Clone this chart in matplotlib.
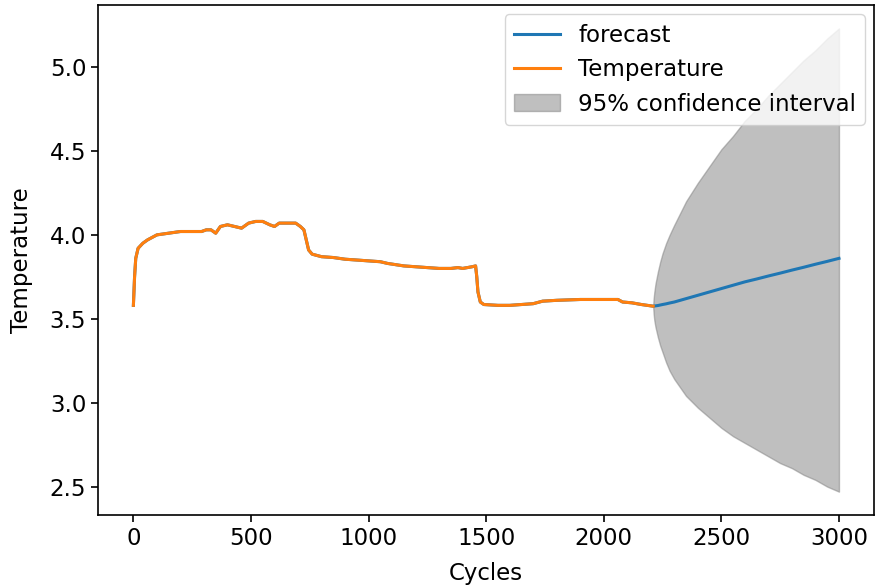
import numpy as np
import matplotlib
matplotlib.use("Agg")
import matplotlib.pyplot as plt

cycles = [0, 5, 10, 20, 40, 60, 100, 150, 200, 250, 290, 310, 330, 350, 370, 400,
          430, 460, 490, 520, 550, 580, 600, 620, 660, 690, 710, 725, 735, 745,
          760, 800, 850, 900, 950, 1000, 1050, 1080, 1150, 1200, 1250, 1300, 1350,
          1380, 1400, 1440, 1455, 1460, 1465, 1475, 1490, 1550, 1600, 1650, 1700,
          1740, 1800, 1900, 2000, 2060, 2080, 2120, 2160, 2210]
temperature = [3.58, 3.75, 3.86, 3.92, 3.95, 3.97, 4.00, 4.01, 4.02, 4.02, 4.02, 4.03,
               4.03, 4.01, 4.05, 4.06, 4.05, 4.04, 4.07, 4.08, 4.08, 4.06, 4.05, 4.07,
               4.07, 4.07, 4.05, 4.03, 3.97, 3.91, 3.885, 3.87, 3.865, 3.855, 3.85,
               3.845, 3.84, 3.83, 3.815, 3.81, 3.805, 3.80, 3.80, 3.805, 3.80, 3.81,
               3.815, 3.75, 3.66, 3.60, 3.585, 3.58, 3.58, 3.585, 3.59, 3.605, 3.61,
               3.615, 3.615, 3.615, 3.60, 3.595, 3.585, 3.575]

# out-of-sample forecast and 95% interval
fc_cycles = [2210, 2212, 2215, 2220, 2230, 2240, 2250, 2265, 2280, 2300, 2325, 2350,
             2400, 2450, 2500, 2550, 2600, 2650, 2700, 2750, 2800, 2850, 2900, 2950, 3000]
fc_mean = [3.575, 3.575, 3.576, 3.577, 3.579, 3.582, 3.585, 3.589, 3.594, 3.60, 3.61,
           3.62, 3.64, 3.66, 3.68, 3.70, 3.72, 3.737, 3.755, 3.772, 3.79, 3.807, 3.825,
           3.842, 3.86]
fc_upper = [3.575, 3.62, 3.66, 3.71, 3.78, 3.84, 3.89, 3.95, 4.00, 4.06, 4.13, 4.20,
            4.31, 4.41, 4.51, 4.59, 4.68, 4.75, 4.83, 4.90, 4.97, 5.04, 5.10, 5.17, 5.23]
fc_lower = [3.575, 3.53, 3.49, 3.45, 3.39, 3.34, 3.30, 3.24, 3.19, 3.14, 3.09, 3.04,
            2.97, 2.91, 2.85, 2.80, 2.76, 2.72, 2.68, 2.64, 2.61, 2.57, 2.54, 2.50, 2.47]

plt.rcParams['font.family'] = 'DejaVu Sans'
plt.rcParams['font.size'] = 16.5

fig = plt.figure(figsize=(8.76, 5.87), dpi=100)
ax = fig.add_axes([0.112, 0.123, 0.886, 0.868])

ax.plot(cycles + fc_cycles[1:], temperature + fc_mean[1:], color='C0', lw=2.2, label='forecast')
ax.plot(cycles, temperature, color='C1', lw=2.2, label='Temperature')
ax.fill_between(fc_cycles, fc_lower, fc_upper, color='gray', alpha=0.5,
                label='95% confidence interval')

ax.set_xlabel('Cycles', labelpad=9)
ax.set_ylabel('Temperature', labelpad=12)
ax.set_xticks([0, 500, 1000, 1500, 2000, 2500, 3000])
ax.set_yticks([2.5, 3.0, 3.5, 4.0, 4.5, 5.0])
ax.tick_params(length=5, width=1.2)
for s in ax.spines.values():
    s.set_linewidth(1.2)
ax.legend(loc='upper right', borderaxespad=0.4)

fig.savefig('out.png', dpi=100)
